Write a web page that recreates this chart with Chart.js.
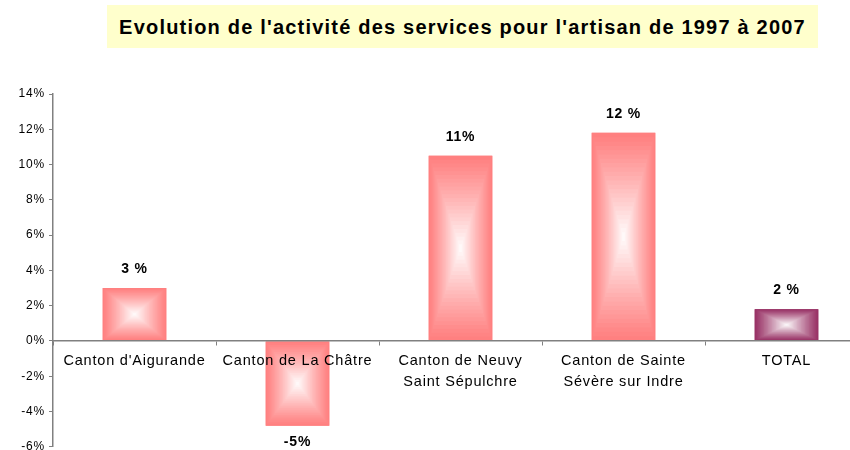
<!DOCTYPE html>
<html>
<head>
<meta charset="utf-8">
<script src="https://cdn.jsdelivr.net/npm/chart.js@4.4.1/dist/chart.umd.min.js"></script>
<style>
  html, body { margin: 0; padding: 0; background: #fff; overflow: hidden; }
  #title {
    position: absolute; left: 107px; top: 5px; width: 711px; height: 43px;
    background: #ffffcc; font: bold 20px "Liberation Sans", Arial, sans-serif;
    letter-spacing: 1.2px; line-height: 45px; text-align: center; color: #000;
    white-space: nowrap; z-index: 2;
  }
  #wrap { position: absolute; left: 0; top: 0; width: 868px; height: 458px; }
</style>
</head>
<body>
<div id="title">Evolution de l'activité des services pour l'artisan de 1997 à 2007</div>
<div id="wrap"><canvas id="chart"></canvas></div>
<script>
const categories = [
  "Canton d'Aigurande",
  'Canton de La Châtre',
  ['Canton de Neuvy', 'Saint Sépulchre'],
  ['Canton de Sainte', 'Sévère sur Indre'],
  'TOTAL'
];
const values = [3.0, -4.8, 10.5, 11.8, 1.8];
const valueLabels = ['3 %', '-5%', '11%', '12 %', '2 %'];
const edgeColors = ['#ff8080', '#ff8080', '#ff8080', '#ff8080', '#993366'];

const FONT = '"Liberation Sans", Arial, sans-serif';

// mix a hex colour with white, t = 0 -> colour, t = 1 -> white
function mixWhite(hex, t) {
  const r = parseInt(hex.slice(1, 3), 16);
  const g = parseInt(hex.slice(3, 5), 16);
  const b = parseInt(hex.slice(5, 7), 16);
  const m = c => Math.round(c + (255 - c) * t);
  return `rgb(${m(r)},${m(g)},${m(b)})`;
}

// wide Excel-like text spacing (canvas state is reset on resize, so set it each time)
const spacing = {
  id: 'spacing',
  beforeLayout(chart) { chart.ctx.letterSpacing = '0.8px'; },
  beforeDraw(chart) { chart.ctx.letterSpacing = '0.8px'; }
};

// rectangular "from centre" gradient drawn over each bar, then the value labels
const barDecor = {
  id: 'barDecor',
  afterDatasetsDraw(chart) {
    const ctx = chart.ctx;
    const meta = chart.getDatasetMeta(0);
    meta.data.forEach((bar, i) => {
      const w = bar.width;
      const top = Math.min(bar.y, bar.base);
      const h = Math.abs(bar.base - bar.y);
      const left = bar.x - w / 2;
      const steps = 24;
      for (let s = 0; s < steps; s++) {
        const t = s / steps;
        ctx.fillStyle = mixWhite(edgeColors[i], Math.pow(t, 1.1));
        ctx.fillRect(left + t * w / 2, top + t * h / 2, w * (1 - t), h * (1 - t));
      }
    });
    ctx.save();
    ctx.font = 'bold 14px ' + FONT;
    ctx.fillStyle = '#000';
    ctx.textAlign = 'center';
    ctx.textBaseline = 'middle';
    meta.data.forEach((bar, i) => {
      const y = values[i] >= 0 ? bar.y - 19 : bar.y + 17;
      ctx.fillText(valueLabels[i], bar.x, y);
    });
    ctx.restore();
  }
};

new Chart(document.getElementById('chart'), {
  type: 'bar',
  data: {
    labels: categories,
    datasets: [{
      data: values,
      backgroundColor: edgeColors,
      borderWidth: 0,
      barPercentage: 0.39,
      categoryPercentage: 1
    }]
  },
  options: {
    responsive: true,
    maintainAspectRatio: false,
    animation: false,
    layout: { padding: { top: 94, left: 0, right: 0, bottom: 0 } },
    plugins: { legend: { display: false }, tooltip: { enabled: false } },
    scales: {
      x: {
        position: { y: 0 },
        grid: { drawOnChartArea: false, tickLength: 4, color: '#808080', offset: true, z: 1 },
        border: { color: '#808080', width: 1.5, z: 1 },
        ticks: {
          z: 1, color: '#000', padding: 6, maxRotation: 0, autoSkip: false,
          font: { family: FONT, size: 14.5, lineHeight: 1.45 }
        }
      },
      y: {
        min: -6, max: 14,
        afterFit(scale) { scale.width = 53; },
        grid: { drawOnChartArea: false, tickLength: 4, color: '#808080' },
        border: { color: '#808080', width: 1.5 },
        ticks: {
          stepSize: 2, color: '#000', padding: 4,
          font: { family: FONT, size: 12 },
          callback: v => v + '%'
        }
      }
    }
  },
  plugins: [spacing, barDecor]
});
</script>
</body>
</html>
